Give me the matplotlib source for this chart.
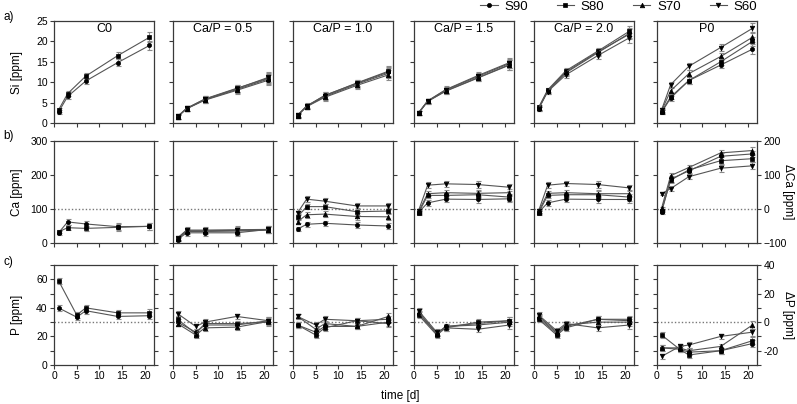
import matplotlib
matplotlib.use("Agg")
import matplotlib.pyplot as plt
from matplotlib.lines import Line2D
from matplotlib.ticker import MultipleLocator, FuncFormatter

plt.rcParams['font.family'] = ['Liberation Sans', 'DejaVu Sans']

panels = ["C0", "Ca/P = 0.5", "Ca/P = 1.0", "Ca/P = 1.5", "Ca/P = 2.0", "P0"]
series = ["S90", "S80", "S70", "S60"]
t_si = [1, 3, 7, 14, 21]
t_ca = [1, 3, 7, 14, 21]
t_p = [1, 5, 7, 14, 21]

# ---- Si [ppm] ----
si_c0 = {"S90": [2.7, 6.5, 10.3, 14.8, 19.0], "S80": [3.2, 7.2, 11.5, 16.5, 21.0]}
si_05 = {"S90": [1.5, 3.5, 5.6, 8.0, 10.5], "S80": [1.6, 3.6, 5.9, 8.5, 11.0],
         "S70": [1.5, 3.5, 5.7, 8.2, 10.8], "S60": [1.6, 3.6, 5.8, 8.4, 11.2]}
si_10 = {"S90": [1.8, 4.1, 6.8, 9.7, 12.5], "S80": [1.9, 4.2, 6.7, 9.8, 12.7],
         "S70": [1.8, 4.0, 6.3, 9.2, 11.8], "S60": [1.9, 4.1, 6.5, 9.5, 12.2]}
si_15 = {"S90": [2.4, 5.3, 7.8, 11.0, 14.2], "S80": [2.5, 5.4, 8.1, 11.4, 14.6],
         "S70": [2.4, 5.3, 7.9, 11.1, 14.3], "S60": [2.5, 5.4, 8.2, 11.6, 14.8]}
si_20 = {"S90": [3.5, 7.8, 12.3, 17.2, 22.0], "S80": [3.8, 8.1, 12.8, 17.6, 22.5],
         "S70": [3.6, 7.9, 12.5, 17.4, 21.8], "S60": [3.4, 7.7, 11.8, 16.5, 20.9]}
si_p0 = {"S90": [2.6, 6.1, 10.4, 14.2, 18.1], "S80": [2.8, 6.4, 10.4, 15.0, 20.0],
         "S70": [3.0, 7.9, 12.1, 16.3, 21.0], "S60": [3.2, 9.4, 13.9, 18.5, 23.2]}
si_err = [0.5, 0.6, 0.8, 0.8, 1.2]

# ---- Ca [ppm] (cols 1-3) and delta Ca [ppm] (cols 4-6) ----
ca_c0 = {"S90": [30, 62, 56, 48, 49], "S80": [33, 45, 43, 46, 49]}
ca_05 = {"S90": [10, 30, 30, 30, 40], "S80": [13, 36, 36, 37, 39],
         "S70": [12, 34, 34, 35, 38], "S60": [15, 38, 38, 39, 40]}
ca_10 = {"S90": [41, 55, 58, 53, 50], "S80": [77, 107, 107, 92, 94],
         "S70": [63, 83, 85, 78, 77], "S60": [89, 129, 123, 109, 109]}
dca_15 = {"S90": [-10, 18, 29, 28, 30], "S80": [-12, 40, 40, 42, 35],
          "S70": [-8, 45, 48, 46, 48], "S60": [-5, 70, 74, 72, 64]}
dca_20 = {"S90": [-10, 18, 29, 28, 28], "S80": [-12, 40, 42, 42, 35],
          "S70": [-8, 46, 48, 45, 45], "S60": [-6, 70, 75, 72, 62]}
dca_p0 = {"S90": [-10, 88, 112, 155, 162], "S80": [-5, 85, 115, 142, 148],
          "S70": [2, 98, 122, 165, 172], "S60": [45, 60, 95, 120, 127]}
ca_err = [5, 8, 8, 10, 10]

# ---- P [ppm] (cols 1-3) and delta P [ppm] (cols 4-6) ----
p_c0 = {"S90": [40, 33.5, 38, 34, 34.5], "S80": [59, 35, 40, 36.5, 36.5]}
p_05 = {"S90": [30, 23, 28, 28, 31], "S80": [32, 22, 29, 29, 30],
        "S70": [29, 21, 26, 26.5, 30.5], "S60": [36, 27, 30, 34, 31]}
p_10 = {"S90": [28, 23, 27, 27, 30], "S80": [28, 21, 26, 31, 32],
        "S70": [34, 25, 29, 27, 34], "S60": [34, 28, 32, 31, 29]}
dp_15 = {"S90": [6, -8, -3, -1, 1], "S80": [5, -9, -4, 0, 1],
         "S70": [7, -8, -3, -2, 0], "S60": [8, -7, -4, -5, -2]}
dp_20 = {"S90": [3, -8, -3, 2, 1], "S80": [2, -9, -4, 2, 2],
         "S70": [4, -7, -2, 0, 0], "S60": [5, -6, -1, -4, -2]}
dp_p0 = {"S90": [-18, -19, -21, -20, -15], "S80": [-9, -19, -23, -20, -13],
         "S70": [-18, -18, -20, -17, -2], "S60": [-24, -17, -16, -10, -7]}
p_err = [2, 2, 2, 2, 2.5]

si_data = [si_c0, si_05, si_10, si_15, si_20, si_p0]
ca_data = [ca_c0, ca_05, ca_10, dca_15, dca_20, dca_p0]
p_data = [p_c0, p_05, p_10, dp_15, dp_20, dp_p0]

markers = {"S90": "o", "S80": "s", "S70": "^", "S60": "v"}
msize = {"S90": 3.0, "S80": 3.2, "S70": 3.3, "S60": 3.3}

W, H = 797, 404
fig = plt.figure(figsize=(W / 100, H / 100), dpi=100)

col_left = [54, 173, 293, 414, 534, 657]
col_w = 100
rows = [(21, 123), (141, 243), (265, 365)]

spine_c = "#3a3a3a"
line_c = "#555555"
err_c = "#8a8a8a"


def make_ax(r, c):
    top, bot = rows[r]
    return fig.add_axes([col_left[c] / W, 1 - bot / H, col_w / W, (bot - top) / H])


def draw(ax, t, data, err):
    for s in series:
        if s not in data:
            continue
        ax.errorbar(t, data[s], yerr=err, fmt="none", ecolor=err_c, elinewidth=0.8,
                    capsize=1.8, capthick=0.8, zorder=2)
        ax.plot(t, data[s], color=line_c, lw=0.8, marker=markers[s], ms=msize[s],
                mfc="black", mec="black", mew=0.5, zorder=3)


fs_tick = 7.5
for r in range(3):
    for c in range(6):
        ax = make_ax(r, c)
        for sp in ax.spines.values():
            sp.set_color(spine_c)
            sp.set_linewidth(0.9)
        ax.set_xlim(0, 22)
        ax.xaxis.set_major_locator(MultipleLocator(5))
        ax.tick_params(axis="both", direction="out", length=3, width=0.8, color=spine_c,
                       labelsize=fs_tick, pad=1.5)
        if r == 0:
            draw(ax, t_si, si_data[c], si_err)
            ax.set_ylim(0, 25)
            ax.yaxis.set_major_locator(MultipleLocator(5))
            ax.text(0.5, 0.92, panels[c], transform=ax.transAxes, ha="center",
                    va="center", fontsize=9)
            ax.tick_params(labelbottom=False)
            if c != 0:
                ax.tick_params(labelleft=False)
        elif r == 1:
            draw(ax, t_ca, ca_data[c], ca_err)
            if c < 3:
                ax.set_ylim(0, 300)
                ax.axhline(100, color="#777777", ls=(0, (1, 1.5)), lw=1.0, zorder=1)
            else:
                ax.set_ylim(-100, 200)
                ax.axhline(0, color="#777777", ls=(0, (1, 1.5)), lw=1.0, zorder=1)
            ax.yaxis.set_major_locator(MultipleLocator(100))
            ax.tick_params(labelbottom=False, right=True)
            if c != 0:
                ax.tick_params(labelleft=False)
            if c == 5:
                ax.tick_params(labelright=True)
        else:
            draw(ax, t_p, p_data[c], p_err)
            if c < 3:
                ax.set_ylim(0, 70)
                ax.axhline(30, color="#777777", ls=(0, (1, 1.5)), lw=1.0, zorder=1)
            else:
                ax.set_ylim(-30, 40)
                ax.axhline(0, color="#777777", ls=(0, (1, 1.5)), lw=1.0, zorder=1)
            ax.yaxis.set_major_locator(MultipleLocator(10))
            ax.yaxis.set_major_formatter(
                FuncFormatter(lambda v, p: f"{int(round(v))}" if int(round(v)) % 20 == 0 else ""))
            ax.tick_params(right=True)
            if c != 0:
                ax.tick_params(labelleft=False)
            if c == 5:
                ax.tick_params(labelright=True)

# axis labels
fs_lab = 8.5
fig.text(17 / W, 1 - 72 / H, "Si [ppm]", rotation=90, ha="center", va="center", fontsize=fs_lab)
fig.text(17 / W, 1 - 192 / H, "Ca [ppm]", rotation=90, ha="center", va="center", fontsize=fs_lab)
fig.text(17 / W, 1 - 315 / H, "P [ppm]", rotation=90, ha="center", va="center", fontsize=fs_lab)
fig.text(788 / W, 1 - 192 / H, "ΔCa [ppm]", rotation=270, ha="center", va="center", fontsize=fs_lab)
fig.text(788 / W, 1 - 315 / H, "ΔP [ppm]", rotation=270, ha="center", va="center", fontsize=fs_lab)
fig.text(400 / W, 1 - 396 / H, "time [d]", ha="center", va="center", fontsize=fs_lab)

for lab, y in [("a)", 17), ("b)", 136), ("c)", 262)]:
    fig.text(3 / W, 1 - y / H, lab, ha="left", va="center", fontsize=8.5)

handles = [Line2D([], [], color=line_c, lw=0.8, marker=markers[s], ms=msize[s],
                  mfc="black", mec="black", mew=0.5) for s in series]
fig.legend(handles, series, loc="center right", bbox_to_anchor=(757 / W, 1 - 7 / H),
           ncol=4, frameon=False, fontsize=9.5, handlelength=1.3, handletextpad=0.5,
           columnspacing=2.2, borderpad=0, borderaxespad=0)

fig.savefig("out.png", dpi=100)
